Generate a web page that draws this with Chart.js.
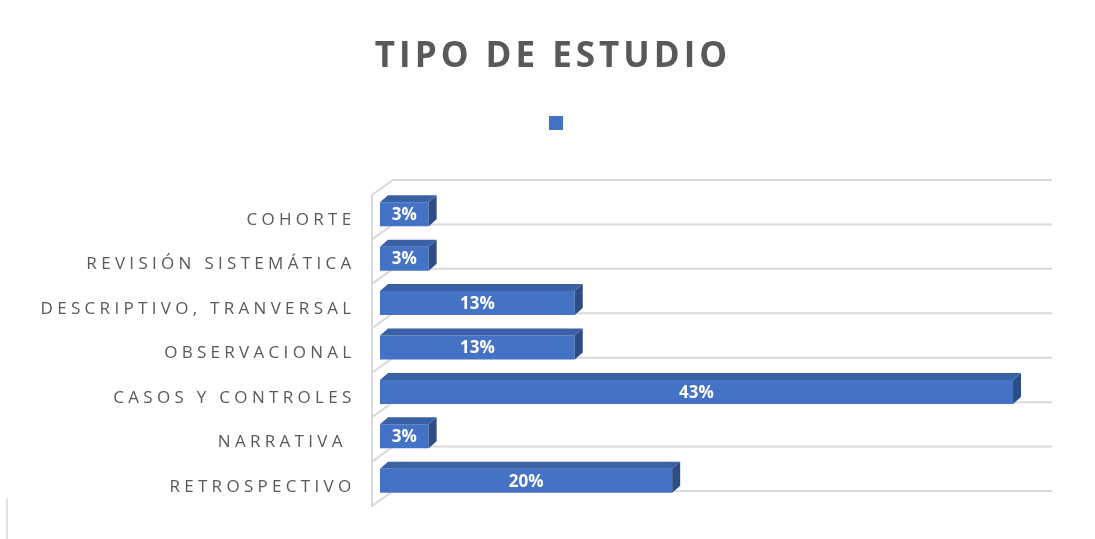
<!DOCTYPE html>
<html lang="es">
<head>
<meta charset="utf-8">
<title>Tipo de estudio</title>
<script src="https://cdn.jsdelivr.net/npm/chart.js@4.4.1/dist/chart.umd.min.js"></script>
<style>
  html, body { margin: 0; padding: 0; background: #fff; }
  #grafica { display: block; }
</style>
</head>
<body>
<canvas id="grafica" width="1095" height="539"></canvas>
<script>
const categorias = ['COHORTE', 'REVISIÓN SISTEMÁTICA', 'DESCRIPTIVO, TRANVERSAL', 'OBSERVACIONAL', 'CASOS Y CONTROLES', 'NARRATIVA ', 'RETROSPECTIVO'];
const porcentajes = [3.33, 3.33, 13.33, 13.33, 43.33, 3.33, 20];
const ejeMin = 0;
const ejeMax = 46;

const GRIS = '#595959';
const AZUL = '#4472C4';
const AZUL_TOP = '#3A60A6';
const AZUL_LADO = '#2E4C86';
const REJILLA = '#D9D9D9';
const PROF_X = 8, PROF_Y = -7;

// espaciado de letras para el título
const espaciado = {
  id: 'espaciado',
  beforeDraw(chart) { chart.ctx.letterSpacing = '4px'; },
  beforeDatasetsDraw(chart) { chart.ctx.letterSpacing = '0px'; }
};

// paredes y rejilla "3D"
const rejilla3d = {
  id: 'rejilla3d',
  beforeDatasetsDraw(chart) {
    const { ctx, chartArea: a } = chart;
    const n = categorias.length;
    const banda = (a.bottom - a.top) / n;
    ctx.save();
    ctx.strokeStyle = REJILLA;
    ctx.lineWidth = 2;
    ctx.beginPath();
    ctx.moveTo(a.left - 8, a.top + 3);
    ctx.lineTo(a.left - 8, a.bottom + 4);
    for (let k = 0; k <= n; k++) {
      const yy = a.top + k * banda - 12;
      ctx.moveTo(a.left - 8, yy + 15);
      ctx.lineTo(a.left + 13, yy);
      ctx.lineTo(a.right, yy);
    }
    ctx.stroke();
    // marco exterior
    ctx.lineWidth = 1.5;
    ctx.beginPath();
    ctx.moveTo(7, 498);
    ctx.lineTo(7, 539);
    ctx.stroke();
    ctx.restore();
  },
  afterDatasetsDraw(chart) {
    const { ctx } = chart;
    const meta = chart.getDatasetMeta(0);
    ctx.save();
    meta.data.forEach((bar, i) => {
      const { x, y, base, height } = bar.getProps(['x', 'y', 'base', 'height'], true);
      const top = y - height / 2, bot = y + height / 2;
      // cara superior
      ctx.fillStyle = AZUL_TOP;
      ctx.beginPath();
      ctx.moveTo(base, top);
      ctx.lineTo(x, top);
      ctx.lineTo(x + PROF_X, top + PROF_Y);
      ctx.lineTo(base + PROF_X, top + PROF_Y);
      ctx.closePath();
      ctx.fill();
      // cara lateral
      ctx.fillStyle = AZUL_LADO;
      ctx.beginPath();
      ctx.moveTo(x, top);
      ctx.lineTo(x + PROF_X, top + PROF_Y);
      ctx.lineTo(x + PROF_X, bot + PROF_Y);
      ctx.lineTo(x, bot);
      ctx.closePath();
      ctx.fill();
      // etiqueta de dato
      ctx.fillStyle = '#FFFFFF';
      ctx.font = 'bold 17px "Open Sans"';
      ctx.textAlign = 'center';
      ctx.textBaseline = 'middle';
      ctx.fillText(Math.round(porcentajes[i]) + '%', (x + base) / 2, y + 1);
    });
    ctx.restore();
  },
  afterDraw(chart) {
    const { ctx, scales: { y } } = chart;
    ctx.save();
    ctx.letterSpacing = '4.3px';
    ctx.fillStyle = GRIS;
    ctx.font = '17px "Open Sans"';
    ctx.textAlign = 'right';
    ctx.textBaseline = 'middle';
    categorias.forEach((c, i) => {
      ctx.fillText(c, 355.5, y.getPixelForValue(i) + 6);
    });
    ctx.restore();
  }
};

new Chart(document.getElementById('grafica'), {
  type: 'bar',
  data: {
    labels: categorias,
    datasets: [{
      label: '',
      data: porcentajes,
      backgroundColor: AZUL,
      borderColor: AZUL,
      borderWidth: 0,
      barPercentage: 0.54,
      categoryPercentage: 1
    }]
  },
  options: {
    indexAxis: 'y',
    responsive: false,
    animation: false,
    layout: { padding: { left: 54, right: 43, top: 0, bottom: 36 } },
    scales: {
      x: {
        display: true,
        position: 'top',
        min: ejeMin,
        max: ejeMax,
        grid: { display: false },
        border: { display: false },
        ticks: { display: false },
        afterFit(s) { s.height = 52; }
      },
      y: {
        display: true,
        grid: { display: false },
        border: { display: false },
        ticks: { display: false },
        afterFit(s) { s.width = 326; }
      }
    },
    plugins: {
      title: {
        display: true,
        text: 'TIPO DE ESTUDIO',
        color: GRIS,
        font: { family: '"Open Sans"', size: 35, weight: 'bold' },
        padding: { top: 36, bottom: 28 }
      },
      legend: {
        display: true,
        rtl: true,
        labels: { boxWidth: 14, boxHeight: 14, font: { size: 12 }, padding: 10 }
      },
      tooltip: { enabled: false }
    }
  },
  plugins: [espaciado, rejilla3d]
});
</script>
</body>
</html>
